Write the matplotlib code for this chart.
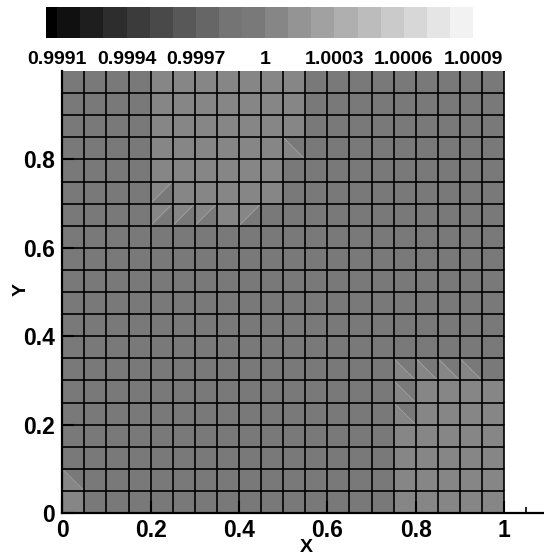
"""Tecplot-style density contour on a 20x20 mesh with a top colour legend."""

import matplotlib

matplotlib.use("Agg")
import matplotlib.pyplot as plt
import numpy as np
from matplotlib.colors import BoundaryNorm, ListedColormap
from matplotlib.colorbar import ColorbarBase
from matplotlib.tri import Triangulation

plt.rcParams["font.family"] = ["Liberation Sans", "DejaVu Sans"]
plt.rcParams["font.weight"] = "bold"

# contour levels of the legend (0.9991 .. 1.0009, step 1e-4) plus the "below" band
LEVELS = [0.99905] + [round(0.9991 + 0.0001 * k, 4) for k in range(19)]
LEVEL_GRAYS = [0, 16, 30, 45, 59, 73, 88, 102, 116, 121, 134, 148, 161, 175, 188, 202, 215, 229, 242]
LEGEND_TICKS = [0.9991, 0.9994, 0.9997, 1.0, 1.0003, 1.0006, 1.0009]
LEGEND_LABELS = ["0.9991", "0.9994", "0.9997", "1", "1.0003", "1.0006", "1.0009"]

X_TICKS = [0, 0.2, 0.4, 0.6, 0.8, 1]
X_TICK_LABELS = ["0", "0.2", "0.4", "0.6", "0.8", "1"]
Y_TICKS = [0, 0.2, 0.4, 0.6, 0.8]
Y_TICK_LABELS = ["0", "0.2", "0.4", "0.6", "0.8"]

N_CELLS = 20
DARK_VALUE = 0.99995   # just below 1
LIGHT_VALUE = 1.00005  # just above 1

# cell states, top row (y 0.95-1.0) first, columns left to right
# d = below 1, L = above 1,
# a = split "/" with upper-left half above 1, b = split "\" with lower-left half above 1
CELL_ROWS = [
    "ddddLLLLLLLddddddddd",
    "ddddLLLLLLLddddddddd",
    "ddddLLLLLLLddddddddd",
    "ddddLLLLLLbddddddddd",
    "ddddLLLLLLdddddddddd",
    "ddddaLLLLLdddddddddd",
    "ddddaaaLaddddddddddd",
    "dddddddddddddddddddd",
    "dddddddddddddddddddd",
    "dddddddddddddddddddd",
    "dddddddddddddddddddd",
    "dddddddddddddddddddd",
    "dddddddddddddddddddd",
    "dddddddddddddddbbbbd",
    "dddddddddddddddbLLLL",
    "dddddddddddddddbLLLL",
    "dddddddddddddddLLLLL",
    "dddddddddddddddLLLLL",
    "bddddddddddddddLLLLL",
    "LddddddddddddddLLLLL",
]


def build_triangles():
    xs = np.linspace(0, 1, N_CELLS + 1)
    gx, gy = np.meshgrid(xs, xs)
    node = lambda i, j: j * (N_CELLS + 1) + i
    tris, vals, seams = [], [], []
    for r, row in enumerate(CELL_ROWS):
        j = N_CELLS - 1 - r
        for i, code in enumerate(row):
            n00, n10 = node(i, j), node(i + 1, j)
            n01, n11 = node(i, j + 1), node(i + 1, j + 1)
            if code == "b":
                tris += [(n00, n10, n01), (n10, n11, n01)]
                vals += [LIGHT_VALUE, DARK_VALUE]
                seams.append(((xs[i], xs[i + 1]), (xs[j + 1], xs[j])))
            else:
                tris += [(n00, n11, n01), (n00, n10, n11)]
                if code == "a":
                    vals += [LIGHT_VALUE, DARK_VALUE]
                    seams.append(((xs[i], xs[i + 1]), (xs[j], xs[j + 1])))
                else:
                    v = LIGHT_VALUE if code == "L" else DARK_VALUE
                    vals += [v, v]
    return Triangulation(gx.ravel(), gy.ravel(), tris), np.array(vals), seams, xs


def main() -> None:
    cmap = ListedColormap([(g / 255, g / 255, g / 255) for g in LEVEL_GRAYS])
    norm = BoundaryNorm(LEVELS, cmap.N)

    fig = plt.figure(figsize=(5.44, 5.57), dpi=100)
    W, H = 544, 557
    ax = fig.add_axes([62.3 / W, (H - 513) / H, (543 - 62.3) / W, (513 - 71) / H])

    tri, vals, seams, xs = build_triangles()
    ax.tripcolor(tri, facecolors=vals, cmap=cmap, norm=norm, antialiased=False, edgecolors="none")
    for sx, sy in seams:
        ax.plot(sx, sy, color="#a8a8a8", linewidth=0.5)
    ax.vlines(xs[1:], 0, 1, color="black", linewidth=1.2)
    ax.hlines(xs[1:-1], 0, 1, color="black", linewidth=1.2)

    ax.set_xlim(0, 1.088)
    ax.set_ylim(0, 1.0)
    for side in ("top", "right"):
        ax.spines[side].set_visible(False)
    for side in ("left", "bottom"):
        ax.spines[side].set_linewidth(1.6)

    ax.set_xticks(X_TICKS, X_TICK_LABELS)
    ax.set_yticks(Y_TICKS, Y_TICK_LABELS)
    ax.set_xticks([1.05], minor=True)
    ax.tick_params(which="major", direction="in", length=8.5, width=1.5, labelsize=16.5, pad=4)
    ax.tick_params(which="minor", direction="in", length=4.5, width=1.2)
    ax.tick_params(axis="y", pad=5)
    for lab in ax.get_xticklabels() + ax.get_yticklabels():
        lab.set_fontweight("bold")

    ax.set_xlabel("X", fontsize=14, fontweight="bold")
    ax.xaxis.set_label_coords(0.508, -0.078)
    ax.xaxis.label.set_va("center")
    ax.set_ylabel("Y", fontsize=14, fontweight="bold")
    ax.yaxis.set_label_coords(-0.085, 0.505)
    ax.yaxis.label.set_va("center")

    cax = fig.add_axes([45.7 / W, (H - 37.7) / H, (473 - 45.7) / W, 31 / H])
    cb = ColorbarBase(cax, cmap=cmap, norm=norm, boundaries=LEVELS,
                      orientation="horizontal", spacing="proportional")
    cb.outline.set_visible(False)
    cb.set_ticks(LEGEND_TICKS, labels=LEGEND_LABELS)
    cax.minorticks_off()
    cax.tick_params(which="both", length=0, labelsize=14, pad=9.5)
    for lab in cax.get_xticklabels():
        lab.set_fontweight("bold")

    fig.savefig("out.png", dpi=100)
    plt.close(fig)


if __name__ == "__main__":
    main()
